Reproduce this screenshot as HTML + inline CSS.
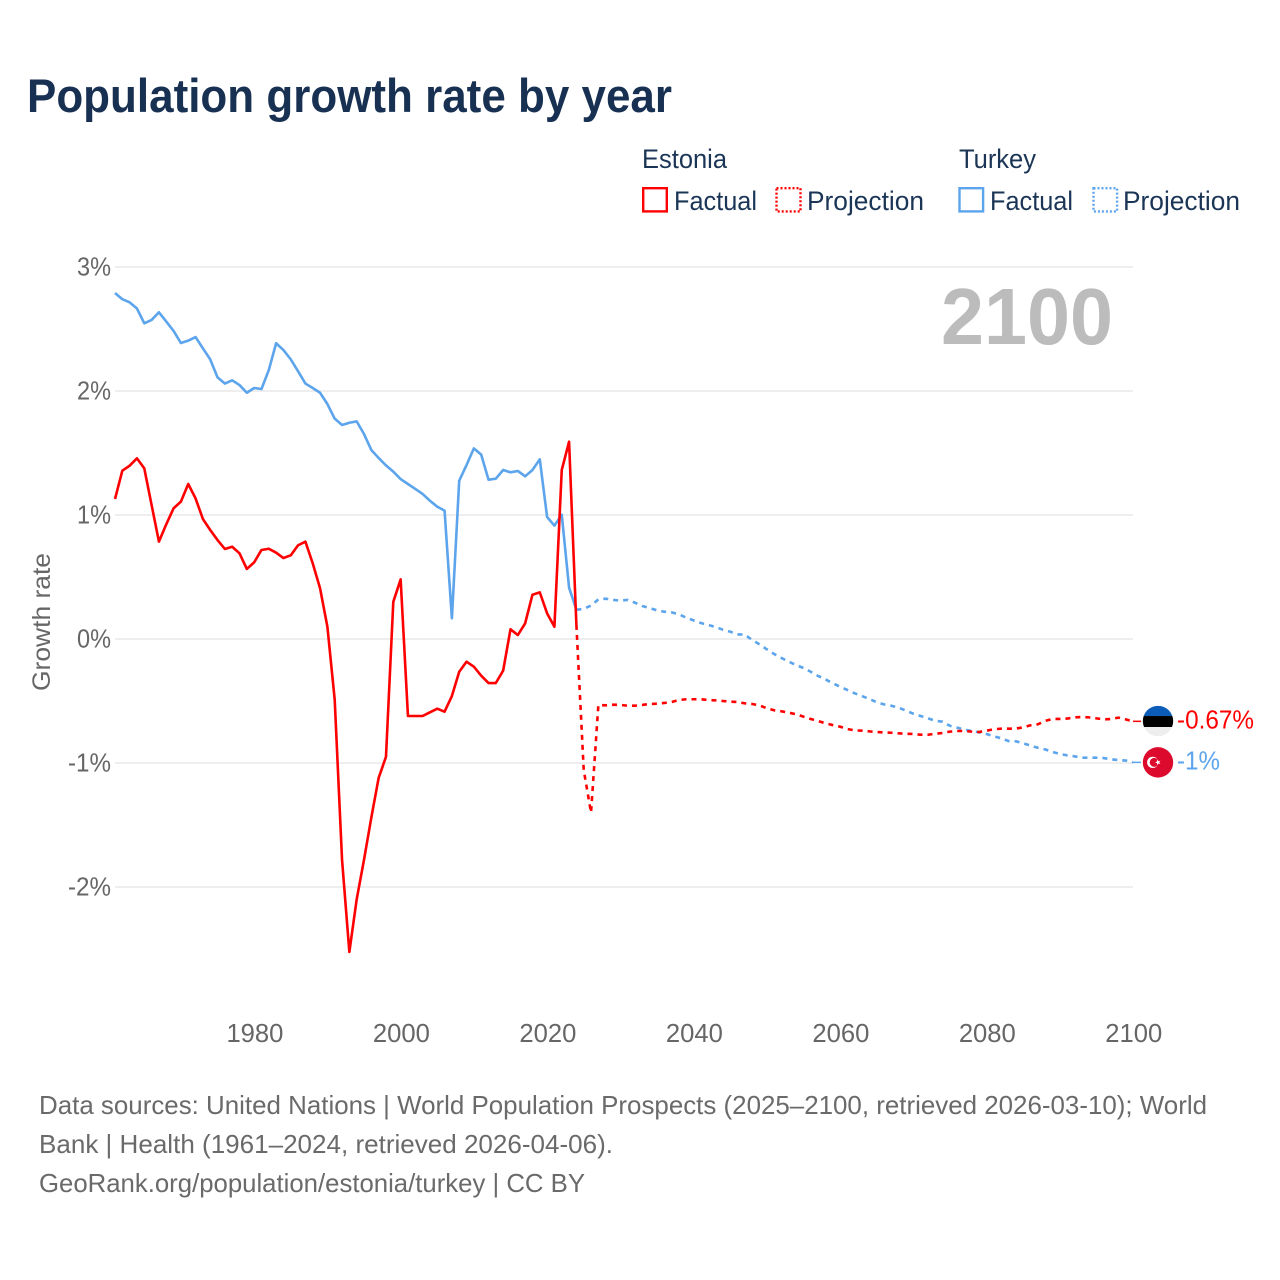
<!DOCTYPE html>
<html lang="en">
<head>
<meta charset="utf-8">
<title>Population growth rate by year</title>
<style>
html,body{margin:0;padding:0;background:#fff;}
svg{display:block;font-family:"Liberation Sans",sans-serif;}
</style>
</head>
<body>
<svg id="chart" width="1280" height="1280" viewBox="0 0 1280 1280" xmlns="http://www.w3.org/2000/svg">
  <rect x="0" y="0" width="1280" height="1280" fill="#ffffff"/>
  <text x="27" y="112" font-size="47" font-weight="700" fill="#183153" textLength="645" lengthAdjust="spacingAndGlyphs">Population growth rate by year</text>

  <g font-size="27" fill="#1b3556">
    <text x="642" y="168" textLength="85" lengthAdjust="spacingAndGlyphs">Estonia</text>
    <text x="959" y="168" textLength="77" lengthAdjust="spacingAndGlyphs">Turkey</text>
    <rect x="643.2" y="188.2" width="23.6" height="23.2" fill="none" stroke="#ff0000" stroke-width="2.4"/>
    <text x="674" y="210" textLength="83" lengthAdjust="spacingAndGlyphs">Factual</text>
    <rect x="776.5" y="188.2" width="24" height="23.2" fill="none" stroke="#ff0000" stroke-width="2.4" stroke-dasharray="2 2"/>
    <text x="807" y="210" textLength="117" lengthAdjust="spacingAndGlyphs">Projection</text>
    <rect x="959.5" y="188.2" width="23.6" height="23.2" fill="none" stroke="#5ca4ec" stroke-width="2.4"/>
    <text x="990" y="210" textLength="83" lengthAdjust="spacingAndGlyphs">Factual</text>
    <rect x="1093.5" y="188.2" width="23.6" height="23.2" fill="none" stroke="#5ca4ec" stroke-width="2.4" stroke-dasharray="2 2"/>
    <text x="1123" y="210" textLength="117" lengthAdjust="spacingAndGlyphs">Projection</text>
  </g>

  <g id="grid"></g>
  <g id="yticks"></g>
  <g id="xticks"></g>
  <text transform="translate(50,622) rotate(-90)" text-anchor="middle" font-size="25" fill="#666666" textLength="138" lengthAdjust="spacingAndGlyphs">Growth rate</text>
  <text x="1113" y="344" text-anchor="end" font-size="80" font-weight="700" fill="#bcbcbc" textLength="172" lengthAdjust="spacingAndGlyphs">2100</text>

  <g id="series"></g>
  <g id="flags"></g>

  <g font-size="26" fill="#6a6a6a">
    <text x="39" y="1114" textLength="1168" lengthAdjust="spacingAndGlyphs">Data sources: United Nations | World Population Prospects (2025–2100, retrieved 2026-03-10); World</text>
    <text x="39" y="1153" textLength="574" lengthAdjust="spacingAndGlyphs">Bank | Health (1961–2024, retrieved 2026-04-06).</text>
    <text x="39" y="1192" textLength="546" lengthAdjust="spacingAndGlyphs">GeoRank.org/population/estonia/turkey | CC BY</text>
  </g>
</svg>
<script>
const firstFactualYear = 1961;
const firstProjectionYear = 2024;
const xTickYears = [1980, 2000, 2020, 2040, 2060, 2080, 2100];
const yTickValues = [3, 2, 1, 0, -1, -2];
const estoniaFactual = [1.129,1.357,1.398,1.457,1.376,1.08,0.785,0.925,1.054,1.108,1.25,1.134,0.968,0.879,0.798,0.726,0.744,0.691,0.565,0.618,0.718,0.728,0.696,0.653,0.675,0.756,0.785,0.61,0.409,0.099,-0.49,-1.78,-2.524,-2.10,-1.78,-1.44,-1.12,-0.95,0.30,0.481,-0.621,-0.621,-0.621,-0.591,-0.562,-0.586,-0.46,-0.264,-0.183,-0.223,-0.296,-0.355,-0.355,-0.255,0.078,0.032,0.126,0.357,0.376,0.207,0.099,1.363,1.591,0.113];
const estoniaProjection = [0.113,-1.056,-1.40,-0.532,-0.535,-0.53,-0.532,-0.538,-0.538,-0.532,-0.524,-0.522,-0.516,-0.508,-0.492,-0.486,-0.486,-0.486,-0.492,-0.495,-0.5,-0.505,-0.508,-0.519,-0.524,-0.535,-0.559,-0.575,-0.583,-0.594,-0.607,-0.626,-0.645,-0.661,-0.68,-0.694,-0.707,-0.726,-0.737,-0.739,-0.745,-0.75,-0.753,-0.756,-0.761,-0.764,-0.766,-0.772,-0.772,-0.764,-0.758,-0.747,-0.742,-0.742,-0.747,-0.75,-0.739,-0.728,-0.723,-0.723,-0.723,-0.712,-0.696,-0.688,-0.661,-0.645,-0.645,-0.642,-0.632,-0.629,-0.632,-0.64,-0.648,-0.645,-0.634,-0.648,-0.664];
const turkeyFactual = [2.79,2.74,2.715,2.665,2.546,2.573,2.635,2.56,2.484,2.387,2.406,2.435,2.344,2.255,2.11,2.06,2.086,2.048,1.986,2.024,2.016,2.169,2.385,2.33,2.255,2.159,2.06,2.024,1.986,1.895,1.777,1.726,1.744,1.755,1.653,1.524,1.46,1.40,1.35,1.29,1.25,1.21,1.17,1.115,1.067,1.035,0.167,1.277,1.403,1.537,1.487,1.285,1.293,1.363,1.344,1.355,1.312,1.363,1.449,0.984,0.914,1.002,0.414,0.236];
const turkeyProjection = [0.236,0.242,0.27,0.32,0.325,0.315,0.31,0.315,0.293,0.266,0.25,0.231,0.22,0.215,0.199,0.172,0.15,0.129,0.113,0.097,0.075,0.059,0.038,0.035,-0.008,-0.043,-0.083,-0.121,-0.153,-0.183,-0.21,-0.234,-0.264,-0.298,-0.325,-0.357,-0.385,-0.411,-0.438,-0.46,-0.484,-0.51,-0.527,-0.538,-0.554,-0.578,-0.602,-0.621,-0.64,-0.659,-0.667,-0.70,-0.715,-0.731,-0.742,-0.753,-0.766,-0.785,-0.80,-0.823,-0.825,-0.841,-0.86,-0.877,-0.89,-0.911,-0.927,-0.938,-0.946,-0.957,-0.957,-0.957,-0.96,-0.97,-0.976,-0.98,-0.995];
const estoniaEndLabel = "-0.67%";
const turkeyEndLabel = "-1%";

const NS = "http://www.w3.org/2000/svg";
const xScale = function (year) { return 115 + (year - 1961) * (1018 / 139); };
const yScale = function (value) { return 639 - value * 124; };

function make(tag, attrs, parent) {
  const el = document.createElementNS(NS, tag);
  Object.keys(attrs).forEach(function (k) { el.setAttribute(k, attrs[k]); });
  parent.appendChild(el);
  return el;
}

const gridGroup = document.getElementById("grid");
const yTickGroup = document.getElementById("yticks");
const xTickGroup = document.getElementById("xticks");
const seriesGroup = document.getElementById("series");
const flagGroup = document.getElementById("flags");

yTickValues.forEach(function (v) {
  const line = make("line", { x1: 115, x2: 1133, y1: yScale(v), y2: yScale(v), stroke: "#e9e9e9", "stroke-width": 1.5 }, gridGroup);
  
  
  const label = make("text", { x: 111, y: yScale(v) + 8.5, "text-anchor": "end", "font-size": 26, fill: "#666666", textLength: v < 0 ? 43 : 34, lengthAdjust: "spacingAndGlyphs" }, yTickGroup);
  label.textContent = v + "%";
  
  
});

xTickYears.forEach(function (year) {
  const label = make("text", { x: xScale(year) + 0.8, y: 1042, "text-anchor": "middle", "font-size": 26, fill: "#666666", textLength: 57, lengthAdjust: "spacingAndGlyphs" }, xTickGroup);
  label.textContent = String(year);
  
  
});

function pathFor(values, startYear) {
  return values.map(function (v, i) {
    return (i ? "L" : "M") + xScale(startYear + i).toFixed(2) + " " + yScale(v).toFixed(2);
  }).join(" ");
}

const turkeyProjectionLine = make("path", { d: pathFor(turkeyProjection, firstProjectionYear), fill: "none", stroke: "#5ca4ec", "stroke-width": 2.6, "stroke-dasharray": "5 5", "stroke-linejoin": "round" }, seriesGroup);


const turkeyFactualLine = make("path", { d: pathFor(turkeyFactual, firstFactualYear), fill: "none", stroke: "#5ca4ec", "stroke-width": 2.6, "stroke-linejoin": "round" }, seriesGroup);


const estoniaProjectionLine = make("path", { d: pathFor(estoniaProjection, firstProjectionYear), fill: "none", stroke: "#ff0000", "stroke-width": 2.6, "stroke-dasharray": "5 5", "stroke-linejoin": "round" }, seriesGroup);


const estoniaFactualLine = make("path", { d: pathFor(estoniaFactual, firstFactualYear), fill: "none", stroke: "#ff0000", "stroke-width": 2.6, "stroke-linejoin": "round" }, seriesGroup);



const lastYear = firstProjectionYear + estoniaProjection.length - 1;
const endX = xScale(lastYear);
const flagX = 1158;
const estoniaY = yScale(estoniaProjection[estoniaProjection.length - 1]);
const turkeyY = yScale(turkeyProjection[turkeyProjection.length - 1]);

const estoniaConnector = make("line", { x1: endX, x2: 1141, y1: estoniaY, y2: estoniaY, stroke: "#ff0000", "stroke-width": 1.5 }, flagGroup);


const turkeyConnector = make("line", { x1: endX, x2: 1141, y1: turkeyY, y2: turkeyY, stroke: "#5ca4ec", "stroke-width": 1.5 }, flagGroup);



const estoniaFlag = make("g", { transform: "translate(" + flagX + "," + (estoniaY - 0.3) + ")" }, flagGroup);


const clip = make("clipPath", { id: "flag-clip" }, flagGroup);
make("circle", { cx: 0, cy: 0, r: 15.2 }, clip);
const estoniaBands = make("g", { "clip-path": "url(#flag-clip)" }, estoniaFlag);
make("rect", { x: -16, y: -16, width: 32, height: 11, fill: "#0a5cb8" }, estoniaBands);
make("rect", { x: -16, y: -5, width: 32, height: 11, fill: "#000000" }, estoniaBands);
make("rect", { x: -16, y: 6, width: 32, height: 10.5, fill: "#eeeeee" }, estoniaBands);

const turkeyFlag = make("g", { transform: "translate(" + flagX + "," + turkeyY + ")" }, flagGroup);


make("circle", { cx: 0, cy: 0, r: 15.2, fill: "#dc0a2d" }, turkeyFlag);
make("circle", { cx: -5.3, cy: 0, r: 5.6, fill: "#ffffff" }, turkeyFlag);
make("circle", { cx: -3.8, cy: 0, r: 4.5, fill: "#dc0a2d" }, turkeyFlag);
make("polygon", { points: "-3,0 -0.97,-0.71 -0.93,-2.85 0.37,-1.14 2.43,-1.76 1.2,0 2.43,1.76 0.37,1.14 -0.93,2.85 -0.97,0.71", fill: "#ffffff" }, turkeyFlag);

const estoniaLabel = make("text", { x: 1177, y: estoniaY + 7, "font-size": 26, fill: "#ff0000", textLength: 77, lengthAdjust: "spacingAndGlyphs" }, flagGroup);
estoniaLabel.textContent = estoniaEndLabel;


const turkeyLabel = make("text", { x: 1177, y: turkeyY + 7, "font-size": 26, fill: "#5ca4ec", textLength: 43, lengthAdjust: "spacingAndGlyphs" }, flagGroup);
turkeyLabel.textContent = turkeyEndLabel;


</script>
</body>
</html>
